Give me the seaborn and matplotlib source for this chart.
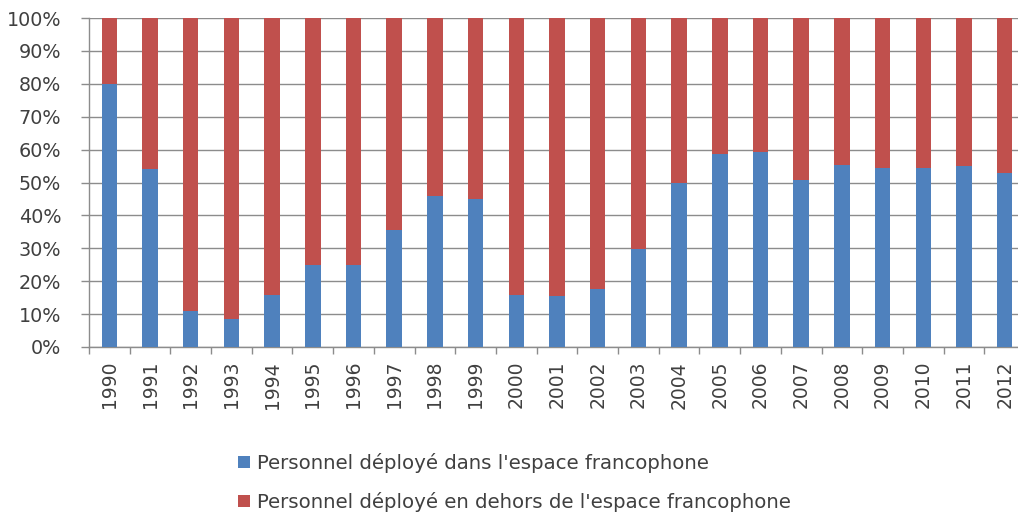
import matplotlib
matplotlib.use("Agg")
import matplotlib.pyplot as plt
from matplotlib.patches import Patch
from matplotlib.ticker import FixedLocator, FuncFormatter
import numpy as np
import pandas as pd
import seaborn as sns

# Share of deployed personnel, by year (percent)
years = [str(y) for y in range(1990, 2013)]
inside_francophone = [80.0, 54.0, 11.0, 8.5, 15.7, 25.0, 25.0, 35.5, 46.0, 45.0,
                      15.7, 15.5, 17.5, 29.7, 49.8, 58.7, 59.4, 50.8, 55.3, 54.3,
                      54.3, 55.0, 52.8]
outside_francophone = [100.0 - v for v in inside_francophone]
legend_labels = ["Personnel déployé dans l'espace francophone",
                 "Personnel déployé en dehors de l'espace francophone"]

BLUE = "#4F81BD"
RED = "#C0504D"
GRID = "#8C8C8C"
TEXT = "#404040"

sns.set_theme(style="white")
plt.rcParams["font.family"] = ["DejaVu Sans"]

df = pd.DataFrame({
    "year": years,
    "inside": inside_francophone,
    "total": np.add(inside_francophone, outside_francophone),
})

fig = plt.figure(figsize=(10.18, 5.15), dpi=100)
W, H = 1018, 515
left, right, bottom, top = 89, 1025, 347, 18
ax = fig.add_axes([left / W, 1 - bottom / H, (right - left) / W, (bottom - top) / H])

bar_w = 0.38
# stacked columns: full height in red, inside share overlaid in blue
sns.barplot(data=df, x="year", y="total", color=RED, width=bar_w,
            saturation=1, ax=ax, zorder=3, linewidth=0)
sns.barplot(data=df, x="year", y="inside", color=BLUE, width=bar_w,
            saturation=1, ax=ax, zorder=4, linewidth=0)

ax.set_xlim(-0.5, len(years) - 0.5)
ax.set_ylim(0, 100)
ax.set_xlabel("")
ax.set_ylabel("")

ax.yaxis.set_major_locator(FixedLocator(np.arange(0, 101, 10)))
ax.yaxis.set_major_formatter(FuncFormatter(lambda v, p: f"{int(round(v))}%"))
ax.grid(axis="y", color=GRID, linewidth=1.0, zorder=0)
ax.set_axisbelow(True)

for s in ["top", "right"]:
    ax.spines[s].set_visible(False)
for s in ["left", "bottom"]:
    ax.spines[s].set_color(GRID)
    ax.spines[s].set_linewidth(1.0)

ax.tick_params(axis="y", which="major", direction="out", length=6, width=1,
               color=GRID, labelsize=13.8, labelcolor=TEXT, pad=14, left=True)
ax.tick_params(axis="x", which="major", length=0, labelsize=13.5,
               labelcolor=TEXT, pad=10, rotation=90, bottom=True)
ax.xaxis.set_minor_locator(FixedLocator(np.arange(-0.5, len(years), 1.0)))
ax.tick_params(axis="x", which="minor", direction="out", length=5, width=1,
               color=GRID, bottom=True)
for lab in ax.get_xticklabels():
    lab.set_verticalalignment("top")

handles = [Patch(facecolor=BLUE, edgecolor="none"),
           Patch(facecolor=RED, edgecolor="none")]
fig.legend(handles, legend_labels, loc="upper left",
           bbox_to_anchor=(238 / W, 1 - 453 / H), frameon=False,
           fontsize=14.2, labelcolor=TEXT, handlelength=0.6, handleheight=0.6,
           handletextpad=0.35, labelspacing=0.95, borderpad=0, borderaxespad=0)

fig.savefig("out.png", dpi=100, facecolor="white")
